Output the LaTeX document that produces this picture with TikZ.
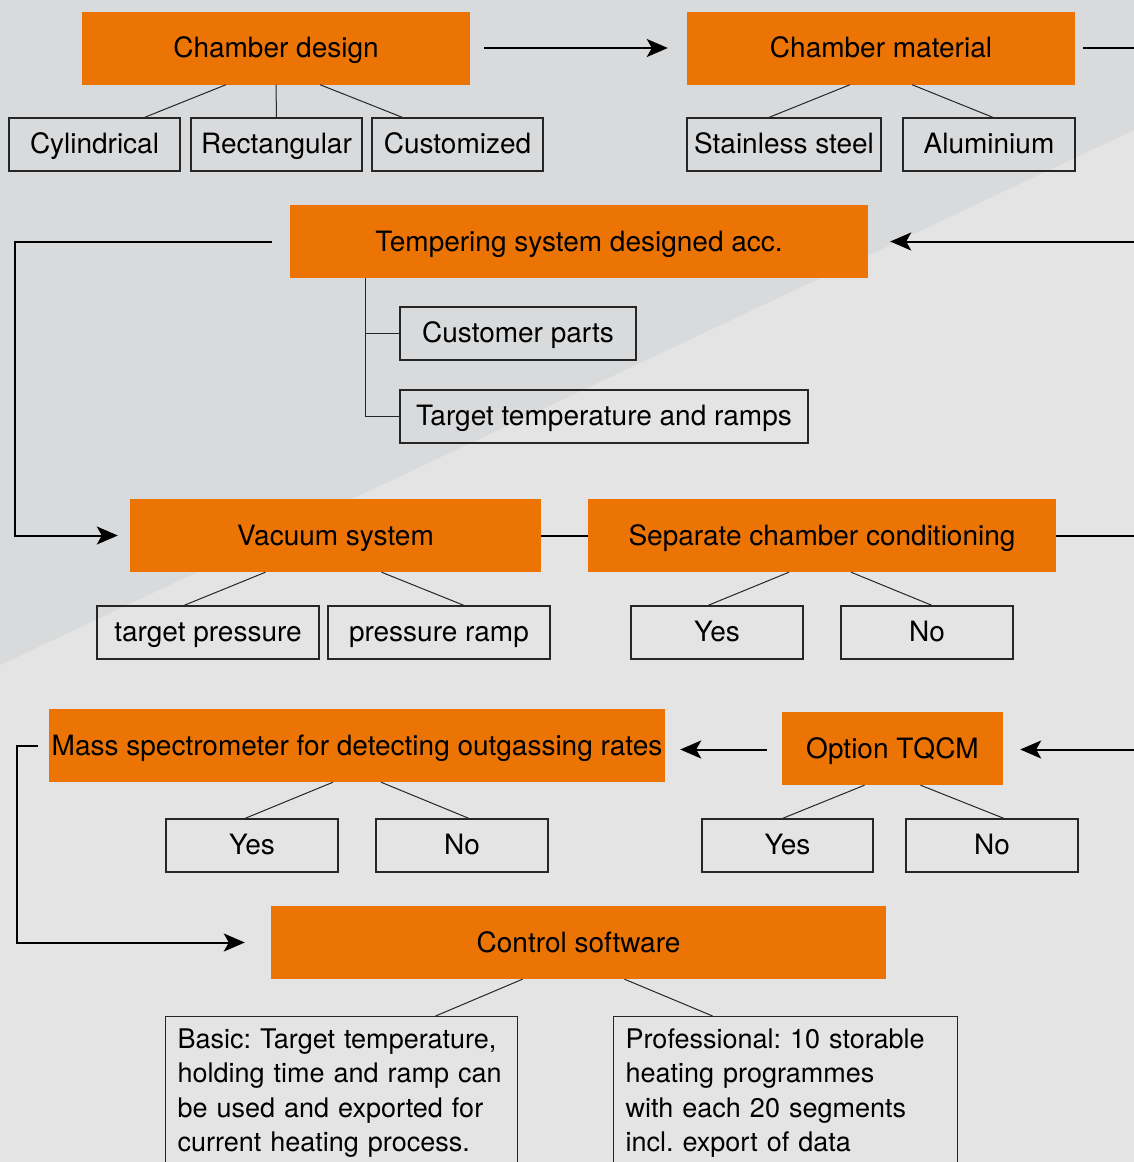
\documentclass[tikz,border=0pt]{standalone}
\usepackage{fontspec}
\setmainfont{TeX Gyre Heros}
\usetikzlibrary{calc,arrows.meta}
\definecolor{bgdark}{HTML}{D9DADC}
\definecolor{bglight}{HTML}{E3E4E3}
\definecolor{barorange}{HTML}{EB7405}
\frenchspacing

\begin{document}
\begin{tikzpicture}[x=1pt,y=-1pt]
		\tikzstyle{bar}=[fill=barorange,inner sep=0pt,minimum height=73pt,text height=21pt,text depth=2pt,font=\fontsize{28}{33}\selectfont]
		\tikzstyle{opt}=[draw=black!85,line width=1.2pt,inner sep=0pt,minimum height=53pt,text height=19pt,text depth=2pt,font=\fontsize{28}{33}\selectfont]
		\tikzstyle{note}=[draw=black!85,line width=1.2pt,inner sep=12pt,anchor=north west,align=left,font=\fontsize{27}{34.5}\selectfont]
		\tikzstyle{tie}=[draw=black!85,line width=1pt]
		\tikzstyle{flow}=[draw=black,line width=2pt,-{Stealth[length=21pt,width=18pt,inset=5pt]}]

		% background
		\clip (0,0) rectangle (1134,1162);
		\fill[bglight] (0,0) rectangle (1134,1162);
		\fill[bgdark] (0,0) -- (1134,0) -- (1134,130) -- (0,665) -- cycle;

		 \node [bar,minimum width=388pt] (design) at (276,48) {Chamber design};
		 \node [opt,minimum width=171pt] (cyl) at (94.5,144.5) {Cylindrical};
		 \node [opt,minimum width=171pt] (rect) at (276.5,144.5) {Rectangular};
		 \node [opt,minimum width=171pt] (cust) at (457.5,144.5) {Customized};

		 \node [bar,minimum width=388pt] (material) at (881,48) {Chamber material};
		 \node [opt,minimum width=194pt] (steel) at (784,144.5) {Stainless steel};
		 \node [opt,minimum width=172pt] (alu) at (989,144.5) {Aluminium};

		 \node [bar,minimum width=578pt] (temper) at (579,241.5) {Tempering system designed acc.};
		 \node [opt,minimum width=236pt] (parts) at (518,333.5) {Customer parts};
		 \node [opt,minimum width=408pt] (ramps) at (604,416.5) {Target temperature and ramps};

		 \node [bar,minimum width=411pt] (vac) at (335.5,535.5) {Vacuum system};
		 \node [opt,minimum width=222pt] (tp) at (208,632.5) {target pressure};
		 \node [opt,minimum width=222pt] (pr) at (439,632.5) {pressure ramp};

		 \node [bar,minimum width=468pt] (sep) at (822,535.5) {Separate chamber conditioning};
		 \node [opt,minimum width=172pt] (sy) at (717,632.5) {Yes};
		 \node [opt,minimum width=172pt] (sn) at (927,632.5) {No};

		 \node [bar,minimum width=616pt] (mass) at (357,745.5) {Mass spectrometer for detecting outgassing rates};
		 \node [opt,minimum width=172pt] (my) at (252,845.5) {Yes};
		 \node [opt,minimum width=172pt] (mn) at (462,845.5) {No};

		 \node [bar,minimum width=221pt] (tqcm) at (892.5,748.5) {Option TQCM};
		 \node [opt,minimum width=171pt] (ty) at (787.5,845.5) {Yes};
		 \node [opt,minimum width=172pt] (tn) at (992,845.5) {No};

		 \node [bar,minimum width=615pt] (soft) at (578.5,942.5) {Control software};
		 \node [note,text width=328pt] (basic) at (165,1016) {\mbox{Basic: Target temperature,}\\\mbox{holding time and ramp can}\\\mbox{be used and exported for}\\\mbox{current heating process.}};
		 \node [note,text width=320pt] (pro) at (613,1016) {\mbox{Professional: 10 storable}\\\mbox{heating programmes}\\\mbox{with each 20 segments}\\\mbox{incl. export of data}};

		 \coordinate (off1) at (1134,48);
		 \coordinate (in1) at (1134,241.5);
		 \coordinate (lft1) at (15,400);
		 \coordinate (off2) at (1134,535.5);
		 \coordinate (in2) at (1134,749.5);
		 \coordinate (lft2) at (17,850);

		 % option ties
		 \path[tie] ([xshift=-50pt]design.south) -- ([xshift=50pt]cyl.north);
		 \path[tie] (design.south) -- (rect.north);
		 \path[tie] ([xshift=44pt]design.south) -- ([xshift=-55pt]cust.north);
		 \path[tie] ([xshift=-31pt]material.south) -- ([xshift=-15pt]steel.north);
		 \path[tie] ([xshift=31pt]material.south) -- ([xshift=4pt]alu.north);
		 \path[tie] ([xshift=76pt]temper.south west) |- (parts.west);
		 \path[tie] ([xshift=76pt]temper.south west) |- (ramps.west);
		 \path[tie] ([xshift=-70pt]vac.south) -- ([xshift=-24pt]tp.north);
		 \path[tie] ([xshift=46pt]vac.south) -- ([xshift=25pt]pr.north);
		 \path[tie] ([xshift=-33pt]sep.south) -- ([xshift=-9pt]sy.north);
		 \path[tie] ([xshift=29pt]sep.south) -- ([xshift=5pt]sn.north);
		 \path[tie] ([xshift=-24pt]mass.south) -- ([xshift=-7pt]my.north);
		 \path[tie] ([xshift=24pt]mass.south) -- ([xshift=7pt]mn.north);
		 \path[tie] ([xshift=-28pt]tqcm.south) -- ([xshift=-5pt]ty.north);
		 \path[tie] ([xshift=28pt]tqcm.south) -- ([xshift=12pt]tn.north);
		 \path[tie] ([xshift=-56pt]soft.south) -- ([xshift=94pt]basic.north);
		 \path[tie] ([xshift=46pt]soft.south) -- ([xshift=-73pt]pro.north);

		 % flow
		 \path[flow,shorten <=14pt,shorten >=19pt] (design.east) -- (material.west);
		 \path[flow,-] ([xshift=8pt]material.east) -- (off1);
		 \path[flow,shorten >=22pt] (in1) -- (temper.east);
		 \path[flow,shorten >=12pt] ([xshift=-18pt]temper.west) -| (lft1) |- (vac.west);
		 \path[flow,-] (vac.east) -- (sep.west);
		 \path[flow,-] (sep.east) -- (off2);
		 \path[flow,shorten >=17pt] (in2) -- (in2 -| tqcm.east);
		 \path[flow,shorten <=15pt,shorten >=15pt] (in2 -| tqcm.west) -- (in2 -| mass.east);
		 \path[flow,shorten >=26pt] ([xshift=-11pt]mass.west) -| (lft2) |- (soft.west);
\end{tikzpicture}
\end{document}
